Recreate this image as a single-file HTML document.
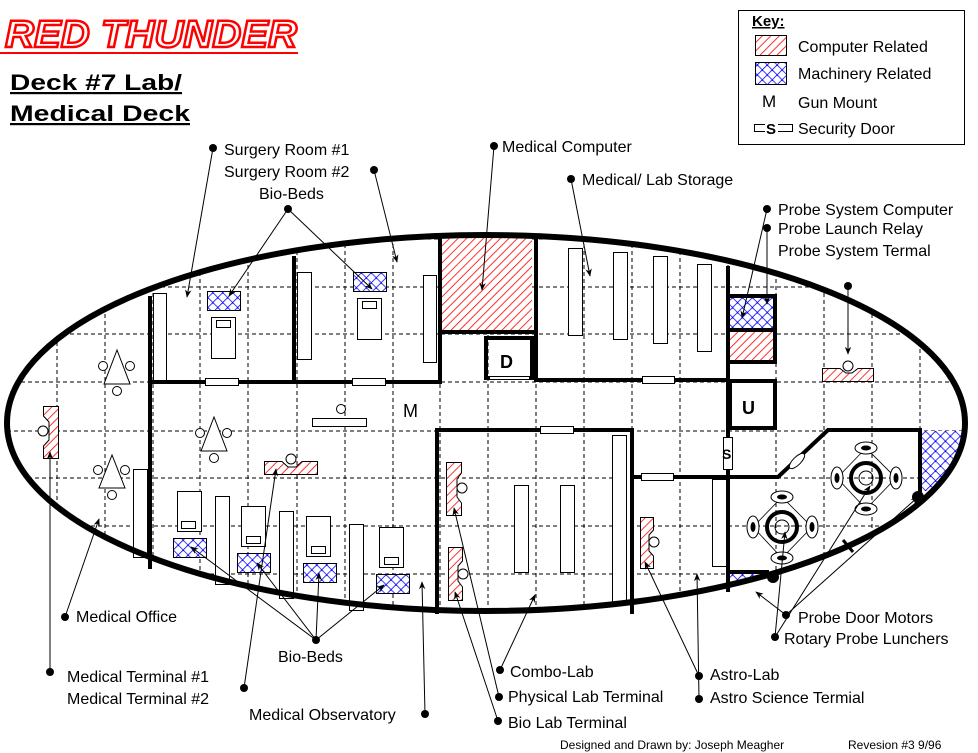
<!DOCTYPE html>
<html><head><meta charset="utf-8"><style>
html,body{margin:0;padding:0;background:#fff;}
svg{display:block;}
text{font-family:"Liberation Sans",Arial,sans-serif;}
</style></head><body>
<svg width="978" height="753" viewBox="0 0 978 753" xmlns="http://www.w3.org/2000/svg">
<defs>
<pattern id="red" width="6" height="6" patternUnits="userSpaceOnUse" patternTransform="rotate(45)">
<rect width="6" height="6" fill="#fff"/><line x1="0" y1="0" x2="0" y2="6" stroke="#f00" stroke-width="1.6"/></pattern>
<pattern id="blue" width="7" height="7" patternUnits="userSpaceOnUse" patternTransform="rotate(45)">
<rect width="7" height="7" fill="#fff"/><path d="M0 0V7M0 0H7" stroke="#00f" stroke-width="1.6"/><circle cx="0" cy="0" r="1.6" fill="#00f"/></pattern>
<clipPath id="hull"><ellipse cx="486" cy="423" rx="479" ry="188"/></clipPath>
<marker id="ar" viewBox="0 0 10 10" refX="9" refY="5" markerWidth="8" markerHeight="8" orient="auto"><path d="M0 1L10 5L0 9L3 5z" fill="#000"/></marker>
</defs>

<!-- title -->
<text x="5" y="47" font-size="38" font-weight="bold" font-style="italic" fill="#fff" stroke="#f00" stroke-width="2.4" textLength="292" lengthAdjust="spacingAndGlyphs">RED THUNDER</text>
<line x1="0" y1="53" x2="298" y2="53" stroke="#f00" stroke-width="2"/>
<text x="10" y="90" font-size="22" font-weight="bold" text-decoration="underline" textLength="172" lengthAdjust="spacingAndGlyphs">Deck #7 Lab/</text>
<text x="10" y="121" font-size="22" font-weight="bold" text-decoration="underline" textLength="180" lengthAdjust="spacingAndGlyphs">Medical Deck</text>

<!-- key -->
<rect x="738.5" y="10.5" width="226" height="134" fill="#fff" stroke="#000"/>
<text x="752" y="26" font-size="15" font-weight="bold" text-decoration="underline">Key:</text>
<rect x="755.5" y="35.5" width="31" height="20" fill="url(#red)" stroke="#000"/>
<text x="798" y="52" font-size="16">Computer Related</text>
<rect x="755.5" y="62.5" width="31" height="22" fill="url(#blue)" stroke="#000"/>
<text x="798" y="79" font-size="16">Machinery Related</text>
<text x="762" y="107" font-size="17">M</text>
<text x="798" y="108" font-size="16">Gun Mount</text>
<rect x="754.5" y="124.5" width="38" height="7" fill="#fff" stroke="#000"/>
<rect x="765" y="121" width="13" height="14" fill="#fff"/>
<text x="766" y="134" font-size="15" font-weight="bold">S</text>
<text x="798" y="134" font-size="16">Security Door</text>

<!-- grid -->
<g clip-path="url(#hull)" stroke="#000" stroke-width="1" stroke-dasharray="4,3">
<path d="M57 230V620M105 230V620M153 230V620M200 230V620M248 230V620M297 230V620M345 230V620M393 230V620M440 230V620M488 230V620M536 230V620M584 230V620M632 230V620M680 230V620M728 230V620M776 230V620M824 230V620M872 230V620M920 230V620"/>
<path d="M0 239H978M0 287H978M0 334H978M0 382H978M0 431H978M0 478H978M0 526H978M0 574H978"/>
</g>

<!-- hatched rooms -->
<rect x="442" y="238" width="90" height="93" fill="url(#red)"/>
<rect x="730" y="296" width="45" height="34" fill="url(#blue)"/>
<rect x="730" y="330" width="45" height="32" fill="url(#red)"/>
<g clip-path="url(#hull)">
<rect x="922" y="431" width="45" height="60" fill="url(#blue)"/>
<rect x="729" y="573" width="38" height="20" fill="url(#blue)"/>
</g>

<!-- walls -->
<g stroke="#000" stroke-width="4" fill="none" stroke-linecap="square">
<path d="M150 298V567"/>
<path d="M150 382H440"/>
<path d="M294 258V382"/>
<path d="M440 236V382"/>
<path d="M440 332H536"/>
<rect x="486" y="338" width="46" height="40"/>
<path d="M536 236V380H728"/>
<path d="M728 268V590"/>
<rect x="728" y="296" width="47" height="66"/>
<path d="M728 330H775"/>
<rect x="730" y="381" width="45" height="47"/>
<path d="M437 612V430H632V612"/>
<path d="M632 477H778L828 430H920V495"/>
<path d="M729 572H767"/>
</g>

<!-- doors -->
<g fill="#fff" stroke="#000" stroke-width="1">
<rect x="205.5" y="378.5" width="33" height="7"/>
<rect x="352.5" y="378.5" width="33" height="7"/>
<rect x="642.5" y="376.5" width="32" height="7"/>
<rect x="540.5" y="426.5" width="33" height="7"/>
<rect x="641.5" y="473.5" width="32" height="7"/>
<rect x="489.5" y="376.5" width="40" height="3"/>
<rect x="723.5" y="437.5" width="9" height="32"/>
</g>
<text x="722" y="459" font-size="14" font-weight="bold">S</text>
<text x="500" y="368" font-size="18" font-weight="bold">D</text>
<text x="742" y="414" font-size="18" font-weight="bold">U</text>
<text x="403" y="417" font-size="18">M</text>

<!-- furniture -->
<g fill="#fff" stroke="#000" stroke-width="1">
<rect x="153.5" y="293.5" width="13" height="87"/>
<rect x="297.5" y="272.5" width="14" height="87"/>
<rect x="423.5" y="275.5" width="13" height="87"/>
<rect x="568.5" y="248.5" width="14" height="87"/>
<rect x="613.5" y="252.5" width="14" height="87"/>
<rect x="653.5" y="256.5" width="14" height="87"/>
<rect x="697.5" y="264.5" width="14" height="87"/>
<rect x="133.5" y="469.5" width="14" height="88"/>
<rect x="215.5" y="496.5" width="14" height="88"/>
<rect x="279.5" y="511.5" width="14" height="87"/>
<rect x="349.5" y="524.5" width="14" height="86"/>
<rect x="514.5" y="485.5" width="14" height="87"/>
<rect x="560.5" y="485.5" width="14" height="87"/>
<rect x="612.5" y="435.5" width="14" height="167"/>
<rect x="712.5" y="479.5" width="14" height="87"/>
<rect x="312.5" y="418.5" width="54" height="8"/>
<rect x="211.5" y="317.5" width="24" height="41"/><rect x="216.5" y="320.5" width="14" height="7"/>
<rect x="357.5" y="298.5" width="24" height="41"/><rect x="362.5" y="301.5" width="14" height="7"/>
<rect x="177.5" y="491.5" width="24" height="40"/><rect x="181.5" y="521.5" width="14" height="7"/>
<rect x="241.5" y="506.5" width="24" height="40"/><rect x="246.5" y="536.5" width="14" height="7"/>
<rect x="306.5" y="516.5" width="24" height="40"/><rect x="311.5" y="546.5" width="14" height="7"/>
<rect x="379.5" y="527.5" width="24" height="40"/><rect x="384.5" y="557.5" width="14" height="7"/>
<path d="M117 350L104 384H130Z"/><path d="M112 455L99 488H125Z"/><path d="M214 417L201 451H227Z"/>
<circle cx="103" cy="366" r="4.5"/><circle cx="130" cy="366" r="4.5"/><circle cx="117" cy="391" r="4.5"/>
<circle cx="98" cy="470" r="4.5"/><circle cx="125" cy="470" r="4.5"/><circle cx="112" cy="495" r="4.5"/>
<circle cx="200" cy="433" r="4.5"/><circle cx="227" cy="433" r="4.5"/><circle cx="214" cy="458" r="4.5"/>
<circle cx="341" cy="409" r="4.5"/>
<circle cx="291" cy="459" r="5"/><circle cx="848" cy="366" r="5"/>
<circle cx="43" cy="431" r="5"/><circle cx="462" cy="488" r="5"/><circle cx="463" cy="574" r="5"/><circle cx="654" cy="542" r="5"/>
</g>
<g fill="url(#red)" stroke="#000" stroke-width="1">
<path d="M43.5 406.5H58.5V458.5H43.5V446L49 440V422L43.5 416Z"/>
<path d="M264.5 461.5H282L288 467H296L302 461.5H317.5V474.5H264.5Z"/>
<path d="M822.5 368.5H840L846 373H852L858 368.5H873.5V381.5H822.5Z"/>
<path d="M446.5 462.5H461.5V473L457 479V497L461.5 503V515.5H446.5Z"/>
<path d="M448.5 547.5H462.5V561L458 566V581L462.5 587V600.5H448.5Z"/>
<path d="M640.5 517.5H653.5V530L649 535V551L653.5 556V568.5H640.5Z"/>
</g>
<g fill="url(#blue)" stroke="#000" stroke-width="1">
<rect x="207.5" y="291.5" width="33" height="19"/>
<rect x="353.5" y="272.5" width="33" height="19"/>
<rect x="173.5" y="538.5" width="33" height="19"/>
<rect x="237.5" y="553.5" width="33" height="19"/>
<rect x="303.5" y="563.5" width="33" height="19"/>
<rect x="376.5" y="574.5" width="33" height="19"/>
</g>

<!-- probe launchers -->
<g stroke="#000" fill="none">
<path d="M866 448L837 478L866 509L896 478Z M782 497L753 527L782 558L812 527Z" stroke-width="0.8"/>
<circle cx="866" cy="478" r="15" stroke-width="4"/><circle cx="866" cy="478" r="7"/>
<circle cx="782" cy="527" r="15" stroke-width="4"/><circle cx="782" cy="527" r="7"/>
<g fill="#fff" stroke-width="1">
<ellipse cx="866" cy="448" rx="11" ry="6"/><ellipse cx="866" cy="509" rx="11" ry="6"/><ellipse cx="837" cy="478" rx="6" ry="11"/><ellipse cx="896" cy="478" rx="6" ry="11"/>
<ellipse cx="782" cy="497" rx="11" ry="6"/><ellipse cx="782" cy="558" rx="11" ry="6"/><ellipse cx="753" cy="527" rx="6" ry="11"/><ellipse cx="812" cy="527" rx="6" ry="11"/>
<ellipse cx="797" cy="461" rx="4" ry="10" transform="rotate(45 797 461)"/>
</g>
</g>
<g fill="#000"><ellipse cx="866" cy="448" rx="5" ry="2.5"/><ellipse cx="866" cy="509" rx="5" ry="2.5"/><ellipse cx="837" cy="478" rx="2.5" ry="5"/><ellipse cx="896" cy="478" rx="2.5" ry="5"/>
<ellipse cx="782" cy="497" rx="5" ry="2.5"/><ellipse cx="782" cy="558" rx="5" ry="2.5"/><ellipse cx="753" cy="527" rx="2.5" ry="5"/><ellipse cx="812" cy="527" rx="2.5" ry="5"/>
<circle cx="918" cy="497" r="6"/><circle cx="773" cy="577" r="6"/></g>
<line x1="843" y1="540" x2="853" y2="552" stroke="#000" stroke-width="3"/>

<!-- hull -->
<ellipse cx="486" cy="423" rx="479" ry="188" fill="none" stroke="#000" stroke-width="6"/>

<!-- leader lines -->
<g stroke="#000" stroke-width="1" fill="none" marker-end="url(#ar)">
<path d="M213 148L187 297"/>
<path d="M374 170L397 262"/>
<path d="M288 209L229 296"/>
<path d="M288 209L372 289"/>
<path d="M494 146L482 290"/>
<path d="M571 179L590 276"/>
<path d="M767 209L742 318"/>
<path d="M767 228L767 304"/>
<path d="M848 286L848 354"/>
<path d="M65 617L99 519"/>
<path d="M50 672L50 452"/>
<path d="M244 688L276 469"/>
<path d="M316 640L191 547"/>
<path d="M316 640L257 563"/>
<path d="M316 640L319 573"/>
<path d="M316 640L384 585"/>
<path d="M425 714L422 582"/>
<path d="M500 670L535 595"/>
<path d="M499 697L454 508"/>
<path d="M498 721L455 592"/>
<path d="M699 676L645 562"/>
<path d="M699 699L697 574"/>
<path d="M786 615L756 592"/>
<path d="M786 615L918 497"/>
<path d="M775 637L870 486"/>
<path d="M775 637L785 532"/>
</g>
<g fill="#000">
<circle cx="213" cy="148" r="4"/><circle cx="374" cy="170" r="4"/><circle cx="288" cy="209" r="4"/>
<circle cx="494" cy="146" r="4"/><circle cx="571" cy="179" r="4"/><circle cx="767" cy="209" r="4"/>
<circle cx="767" cy="228" r="4"/><circle cx="848" cy="286" r="4"/>
<circle cx="65" cy="617" r="4"/><circle cx="50" cy="672" r="4"/><circle cx="244" cy="688" r="4"/>
<circle cx="316" cy="640" r="4"/><circle cx="425" cy="714" r="4"/><circle cx="500" cy="670" r="4"/>
<circle cx="499" cy="697" r="4"/><circle cx="498" cy="721" r="4"/><circle cx="699" cy="676" r="4"/>
<circle cx="699" cy="699" r="4"/><circle cx="786" cy="615" r="4"/><circle cx="775" cy="637" r="4"/>
</g>

<!-- labels -->
<g font-size="16">
<text x="224" y="155">Surgery Room #1</text>
<text x="224" y="177">Surgery Room #2</text>
<text x="259" y="199">Bio-Beds</text>
<text x="502" y="152">Medical Computer</text>
<text x="582" y="185">Medical/ Lab Storage</text>
<text x="778" y="215">Probe System Computer</text>
<text x="778" y="234">Probe Launch Relay</text>
<text x="778" y="256">Probe System Termal</text>
<text x="76" y="622">Medical Office</text>
<text x="67" y="682">Medical Terminal #1</text>
<text x="67" y="704">Medical Terminal #2</text>
<text x="278" y="662">Bio-Beds</text>
<text x="249" y="720">Medical Observatory</text>
<text x="510" y="677">Combo-Lab</text>
<text x="508" y="702">Physical Lab Terminal</text>
<text x="508" y="728">Bio Lab Terminal</text>
<text x="710" y="680">Astro-Lab</text>
<text x="710" y="703">Astro Science Termial</text>
<text x="798" y="623">Probe Door Motors</text>
<text x="784" y="644">Rotary Probe Lunchers</text>
</g>
<text x="560" y="749" font-size="12">Designed and Drawn by: Joseph Meagher</text>
<text x="848" y="749" font-size="12">Revesion #3  9/96</text>
</svg>
</body></html>
